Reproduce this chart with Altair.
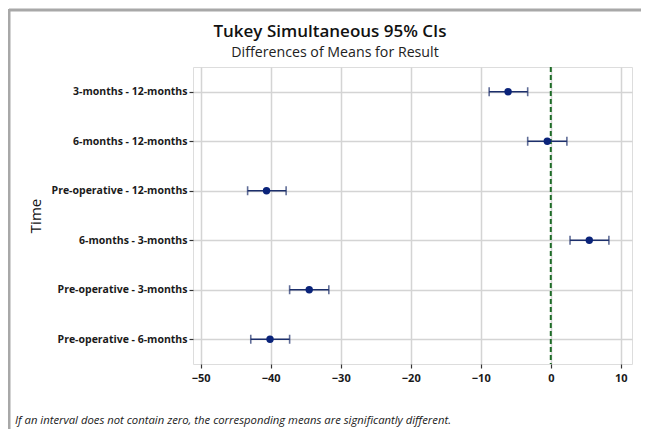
import altair as alt
import pandas as pd

# ---- data ----
comparisons = [
    "3-months - 12-months",
    "6-months - 12-months",
    "Pre-operative - 12-months",
    "6-months - 3-months",
    "Pre-operative - 3-months",
    "Pre-operative - 6-months",
]
means = [-6.1, -0.5, -40.6, 5.5, -34.5, -40.1]
lowers = [-8.8, -3.3, -43.3, 2.75, -37.3, -42.85]
uppers = [-3.3, 2.3, -37.8, 8.3, -31.7, -37.3]
x_ticks = [-50, -40, -30, -20, -10, 0, 10]
x_domain = [-51.1, 11.6]
reference_value = [0]
title_text = ["Tukey Simultaneous 95% CIs"]
subtitle_text = ["Differences of Means for Result"]
y_title = "Time"
footnote = ["If an interval does not contain zero, the corresponding means are significantly different."]

FONT = "Open Sans"
W, H = 439, 297
NAVY = "#0a237a"
BAR = "#1c2f6b"

df = pd.DataFrame({"comparison": comparisons, "mean": means, "lower": lowers, "upper": uppers})

xscale = alt.Scale(domain=x_domain, nice=False, zero=False)
yscale = alt.Scale(type="point", padding=0.5)
ysort = comparisons

xaxis = alt.Axis(values=x_ticks, format="d", title=None, labelFontWeight="bold",
                 labelFontSize=11, labelColor="#1a1a1a", tickSize=4, tickColor="#333",
                 tickWidth=1.2, labelPadding=4, domain=False, grid=True,
                 gridColor="#d4d4d4", gridWidth=1.5)
yaxis = alt.Axis(title=y_title, titleFontSize=15, titleFontWeight=500, titleColor="#111",
                 titlePadding=8, labelFontWeight="bold", labelFontSize=10.5, labelColor="#1a1a1a",
                 tickSize=4, tickColor="#333", tickWidth=1.2, labelPadding=2, domain=False,
                 grid=True, gridColor="#d4d4d4", gridWidth=1.5, labelLimit=300)

base = alt.Chart(df)

bars = base.mark_rule(color=BAR, strokeWidth=1.6).encode(
    x=alt.X("lower:Q", scale=xscale, axis=xaxis),
    x2="upper:Q",
    y=alt.Y("comparison:N", sort=ysort, scale=yscale, axis=yaxis),
)
cap_lo = base.mark_tick(color=BAR, size=9, thickness=1.6).encode(
    x=alt.X("lower:Q", scale=xscale), y=alt.Y("comparison:N", sort=ysort, scale=yscale))
cap_hi = base.mark_tick(color=BAR, size=9, thickness=1.6).encode(
    x=alt.X("upper:Q", scale=xscale), y=alt.Y("comparison:N", sort=ysort, scale=yscale))
pts = base.mark_circle(color=NAVY, size=55, opacity=1).encode(
    x=alt.X("mean:Q", scale=xscale), y=alt.Y("comparison:N", sort=ysort, scale=yscale))

zero = alt.Chart(pd.DataFrame({"v": reference_value})).mark_rule(
    color="#1d6b26", strokeWidth=2, strokeDash=[5, 3]
).encode(x=alt.X("v:Q", scale=xscale))

title = alt.Chart(pd.DataFrame({"t": title_text})).mark_text(
    align="center", baseline="alphabetic", font=FONT, fontSize=17, fontWeight=600, color="#111"
).encode(x=alt.value(137), y=alt.value(-30), text="t:N")
subtitle = alt.Chart(pd.DataFrame({"t": subtitle_text})).mark_text(
    align="center", baseline="alphabetic", font=FONT, fontSize=14.2, color="#222"
).encode(x=alt.value(142), y=alt.value(-10), text="t:N")

note = alt.Chart(pd.DataFrame({"t": footnote})).mark_text(
    align="left", baseline="alphabetic", font=FONT, fontStyle="italic", fontSize=11.3, color="#1a1a1a"
).encode(x=alt.value(-178), y=alt.value(357), text="t:N")

frame_df = pd.DataFrame({"k": [1]})
frame_top = alt.Chart(frame_df).mark_rule(color="#a8a8a8", strokeWidth=3).encode(
    x=alt.value(-184), x2=alt.value(460), y=alt.value(-57))
frame_left = alt.Chart(frame_df).mark_rule(color="#a8a8a8", strokeWidth=3).encode(
    x=alt.value(-184), y=alt.value(-58), y2=alt.value(380))

chart = alt.layer(frame_top, frame_left, zero, bars, cap_lo, cap_hi, pts, title, subtitle, note).properties(
    width=W, height=H,
    autosize="none",
    padding={"left": 185, "top": 59, "right": 9, "bottom": 65},
).configure_view(stroke="#333", strokeWidth=1.5).configure(font=FONT)

chart.save("out.html", embed_options={"renderer": "svg", "actions": False})
